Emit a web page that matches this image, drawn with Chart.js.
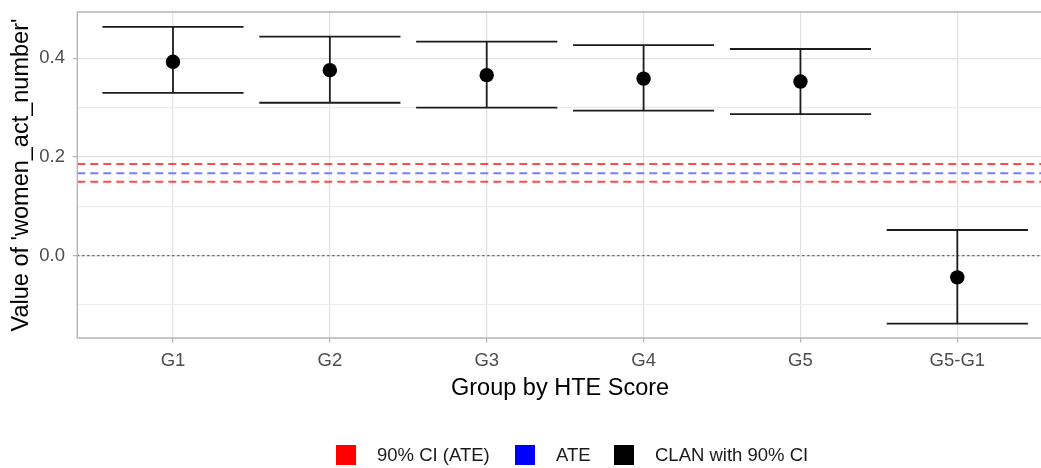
<!DOCTYPE html>
<html>
<head>
<meta charset="utf-8">
<script src="https://cdn.jsdelivr.net/npm/chart.js@4.4.1/dist/chart.umd.min.js"></script>
<style>
  html, body { margin: 0; padding: 0; background: #fff; overflow: hidden; width: 1041px; height: 468px; }
  #wrap { position: relative; width: 1050px; height: 468px; }
  #plot { position: absolute; left: 0; top: 0; width: 1050px; height: 468px; }
  .key { position: absolute; top: 445px; width: 20px; height: 20px; }
  .lab { position: absolute; top: 443px; line-height: 24px; font-family: 'Liberation Sans', Arial, sans-serif; font-size: 18.5px; color: #1a1a1a; white-space: nowrap; }
</style>
</head>
<body>
<div id="wrap">
  <canvas id="plot" width="1050" height="468"></canvas>
</div>
<script>
// Groups along the x axis
const groups = ['G1', 'G2', 'G3', 'G4', 'G5', 'G5-G1'];
// CLAN estimates with 90% confidence bounds
const estimates = [0.393, 0.376, 0.366, 0.359, 0.353, -0.044];
const lowerCI  = [0.330, 0.310, 0.300, 0.294, 0.287, -0.138];
const upperCI  = [0.464, 0.444, 0.434, 0.427, 0.419, 0.052];
// Average treatment effect and its 90% interval
const ateValue = 0.167;
const ateLower = 0.150;
const ateUpper = 0.186;
// Y axis gridline values and labelled ticks
const yTickValues = [-0.1, 0.0, 0.1, 0.2, 0.3, 0.4];
const yTickLabels = ['', '0.0', '', '0.2', '', '0.4'];
// Legend entries
const legendLabels = ['90% CI (ATE)', 'ATE', 'CLAN with 90% CI'];
const legendColors = ['#ff0000', '#0000ff', '#000000'];

const X_MIN = 0.39, X_MAX = 6.545, CAP = 0.45;
const FONT = "'Liberation Sans', Arial, sans-serif";

// error bar path: upper cap, stem, lower cap, separated by gaps
const barPath = [];
groups.forEach((g, i) => {
  const x = i + 1;
  barPath.push({x: x - CAP, y: upperCI[i]}, {x: x + CAP, y: upperCI[i]}, {x: x, y: null});
  barPath.push({x: x, y: lowerCI[i]}, {x: x, y: upperCI[i]}, {x: x, y: null});
  barPath.push({x: x - CAP, y: lowerCI[i]}, {x: x + CAP, y: lowerCI[i]}, {x: x, y: null});
});
const pointData = groups.map((g, i) => ({x: i + 1, y: estimates[i]}));
const hline = v => [{x: X_MIN, y: v}, {x: X_MAX, y: v}];

const lineSet = (data, color, dash, width, order) => ({
  type: 'scatter', data, showLine: true, spanGaps: false,
  borderColor: color, borderDash: dash, borderWidth: width,
  pointRadius: 0, pointHoverRadius: 0, order
});

// panel frame (left, top and bottom edges; the right edge runs off the page)
const framePlugin = {
  id: 'frame',
  afterDatasetsDraw(chart) {
    const {ctx, chartArea: a} = chart;
    ctx.save();
    ctx.strokeStyle = '#b5b5b5';
    ctx.lineWidth = 1.4;
    ctx.beginPath();
    ctx.moveTo(a.right + 10, a.top);
    ctx.lineTo(a.left, a.top);
    ctx.lineTo(a.left, a.bottom);
    ctx.lineTo(a.right + 10, a.bottom);
    ctx.stroke();
    ctx.restore();
  }
};

new Chart(document.getElementById('plot'), {
  type: 'scatter',
  data: {
    datasets: [
      {
        type: 'scatter', data: pointData, backgroundColor: '#000', borderColor: '#000',
        borderWidth: 0, pointRadius: 7.2, pointHoverRadius: 7.2, order: 0
      },
      lineSet(barPath, '#1c1c1c', [], 1.8, 1),
      lineSet(hline(0), '#5a5a5a', [2, 3], 1.4, 2),
      lineSet(hline(ateUpper), 'rgba(255,30,30,0.8)', [8, 5], 2, 3),
      lineSet(hline(ateValue), 'rgba(110,110,255,0.9)', [8, 5], 2, 3),
      lineSet(hline(ateLower), 'rgba(255,30,30,0.8)', [8, 5], 2, 3)
    ]
  },
  options: {
    responsive: false,
    animation: false,
    events: [],
    layout: { padding: { left: 0, right: 1.2, top: 12, bottom: 65 } },
    plugins: { legend: { display: false }, tooltip: { enabled: false } },
    scales: {
      x: {
        type: 'linear', min: X_MIN, max: X_MAX,
        afterBuildTicks: s => { s.ticks = groups.map((g, i) => ({value: i + 1})); },
        afterFit: s => { s.height = 65; s.paddingLeft = 0; s.paddingRight = 0; },
        border: { display: false },
        grid: { color: '#e2e2e2', lineWidth: 1.2, tickLength: 4.6, tickColor: '#b5b5b5', tickWidth: 1.2 },
        ticks: {
          padding: 7, color: '#4d4d4d', font: { family: FONT, size: 18.5 },
          maxRotation: 0, autoSkip: false,
          callback: v => groups[Math.round(v) - 1]
        },
        title: {
          display: true, text: 'Group by HTE Score', color: '#000',
          font: { family: FONT, size: 23.5 }, padding: { top: 0, bottom: 0 }
        }
      },
      y: {
        type: 'linear', min: -0.167, max: 0.494,
        afterBuildTicks: s => { s.ticks = yTickValues.map(v => ({value: v})); },
        afterFit: s => { s.width = 77.3; s.paddingTop = 0; s.paddingBottom = 0; },
        border: { display: false },
        grid: {
          color: c => (c.tick && yTickLabels[yTickValues.indexOf(c.tick.value)] !== '' ? '#e0e0e0' : '#ededed'),
          lineWidth: 1.2, tickLength: 4.6, tickWidth: 1.2,
          tickColor: c => (c.tick && yTickLabels[yTickValues.indexOf(c.tick.value)] !== '' ? '#b5b5b5' : 'rgba(0,0,0,0)')
        },
        ticks: {
          padding: 7.7, color: '#4d4d4d', font: { family: FONT, size: 18.5 },
          autoSkip: false,
          callback: v => {
            const k = yTickValues.findIndex(t => Math.abs(t - v) < 1e-9);
            return k >= 0 ? yTickLabels[k] : '';
          }
        },
        title: {
          display: true, text: "Value of 'women_act_number'", color: '#000',
          font: { family: FONT, size: 23.5 }, padding: { top: 7, bottom: 0 }
        }
      }
    }
  },
  plugins: [framePlugin]
});

// legend row under the plot
const keyLeft = [336, 515, 614];
const labLeft = [377, 556, 655];
const wrap = document.getElementById('wrap');
legendLabels.forEach((t, i) => {
  const k = document.createElement('div');
  k.className = 'key';
  k.style.left = keyLeft[i] + 'px';
  k.style.background = legendColors[i];
  wrap.appendChild(k);
  const l = document.createElement('div');
  l.className = 'lab';
  l.style.left = labLeft[i] + 'px';
  l.textContent = t;
  wrap.appendChild(l);
});
</script>
</body>
</html>
